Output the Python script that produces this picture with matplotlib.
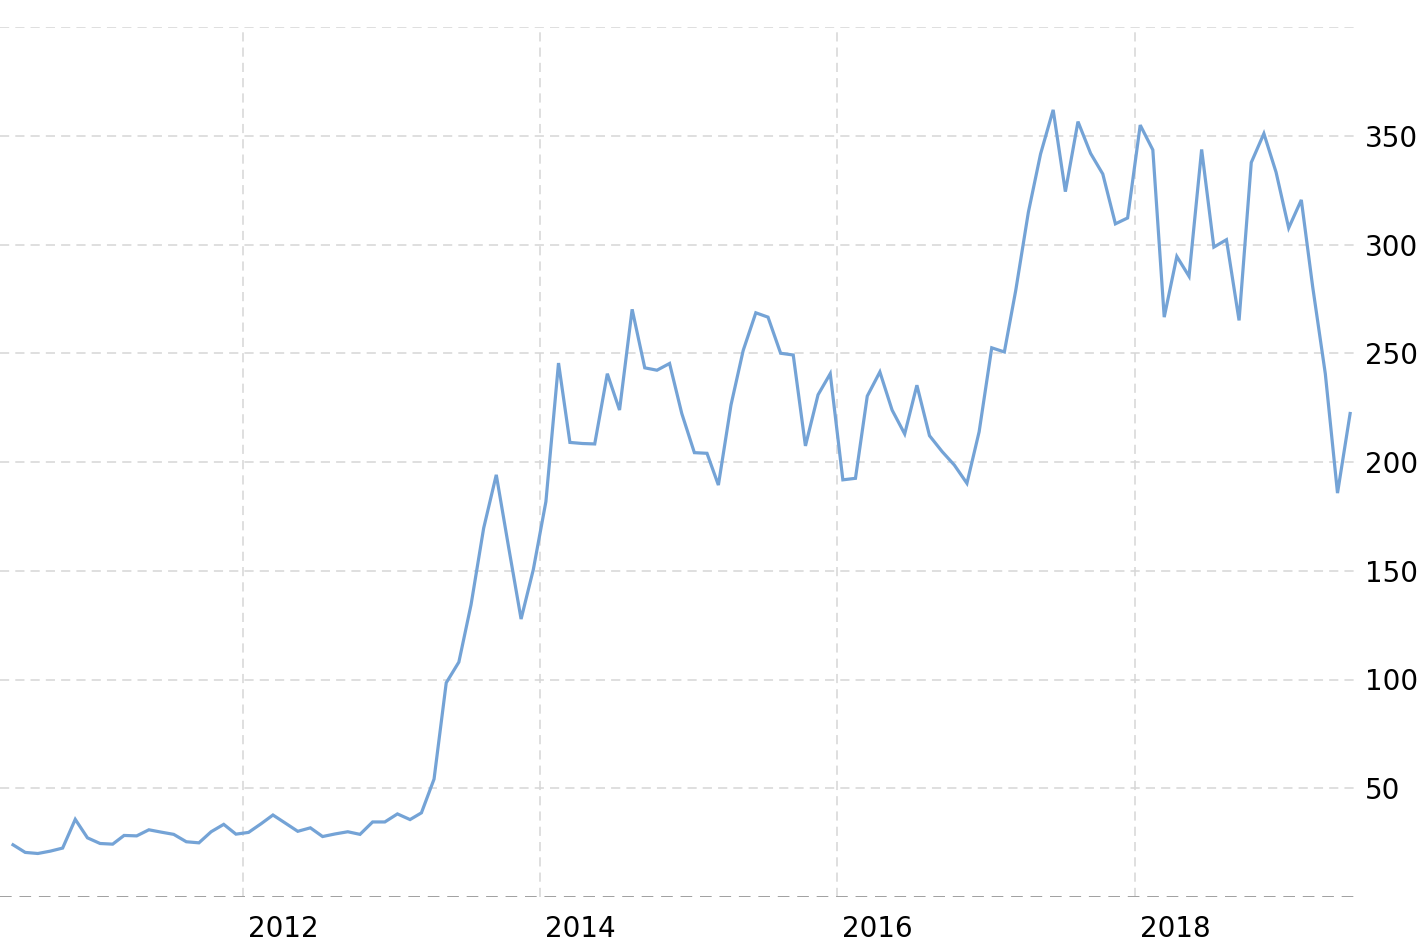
import matplotlib
matplotlib.use("Agg")
import matplotlib.pyplot as plt
import matplotlib.dates as mdates
import matplotlib.transforms as mtransforms
import pandas as pd

# monthly series, first point mid June 2010
start_month = "2010-06-01"
values = [
    24.0, 20.5, 20.0, 21.1, 22.5, 35.7, 27.2, 24.6, 24.3, 28.3, 28.1, 30.9,
    29.8, 28.8, 25.4, 24.9, 30.0, 33.4, 28.9, 29.7, 33.7, 37.7, 33.9, 30.2,
    31.8, 27.8, 29.0, 30.0, 28.8, 34.5, 34.5, 38.2, 35.6, 38.7,
    54.2, 98.5, 108.0, 134.4, 169.6, 194.1, 161.2, 127.8, 150.5, 181.8,
    245.5, 209.0, 208.5, 208.3, 240.6, 223.9, 270.2, 243.3, 242.2, 245.3,
    222.3, 204.3, 204.0, 189.4, 226.2, 251.3, 268.6, 266.6, 250.0, 249.2,
    207.4, 230.9, 240.6,
    191.8, 192.5, 230.3, 241.4, 223.9, 212.9, 235.3, 212.1, 204.8, 198.6,
    190.2, 213.9, 252.5, 250.6,
    278.9, 314.8, 341.6, 361.9, 324.3, 356.5, 341.9, 332.4, 309.5, 312.2,
    354.9, 343.5, 266.6, 294.5, 285.4, 343.7, 298.8, 302.2, 265.1, 337.7,
    351.0, 333.2, 307.6, 320.5, 280.5, 240.6, 185.7, 222.3,
]
year_ticks = [2012, 2014, 2016, 2018]
y_ticks = [50, 100, 150, 200, 250, 300, 350]

dates = pd.date_range(start_month, periods=len(values), freq="MS") + pd.Timedelta(days=14)

LINE = "#74a3d6"
GRID = "#d6d6d6"

fig = plt.figure(figsize=(14.28, 9.5), dpi=100)
ax = fig.add_axes([0.0, 1 - 897 / 950, 1355 / 1428, (897 - 27) / 950])

ax.plot(dates, values, color=LINE, lw=2.3, solid_joinstyle="miter", zorder=3)

ax.set_ylim(0, 400)
ax.set_xlim(dates[0] - pd.Timedelta(days=32), dates[-1] + pd.Timedelta(days=12))

# horizontal grid
for v in y_ticks + [400]:
    ax.axhline(v, color=GRID, lw=1.1, ls=(0, (6, 4)), zorder=1)
ax.axhline(0, color="#a0a0a0", lw=1.4, ls=(0, (6, 4)), zorder=2)

# vertical grid at year starts
xt = [pd.Timestamp(f"{y}-01-01") for y in year_ticks]
for d in xt:
    ax.axvline(d, color=GRID, lw=1.1, ls=(0, (6, 4)), zorder=1)

for s in ax.spines.values():
    s.set_visible(False)

ax.set_xticks(xt)
ax.xaxis.set_major_formatter(mdates.DateFormatter("%Y"))
ax.tick_params(axis="x", length=0, pad=13, labelsize=20)
offset = mtransforms.ScaledTranslation(5 / 100, 0, fig.dpi_scale_trans)
for lab in ax.get_xticklabels():
    lab.set_horizontalalignment("left")
    lab.set_transform(lab.get_transform() + offset)

ax.yaxis.tick_right()
ax.set_yticks(y_ticks)
ax.tick_params(axis="y", length=0, pad=7, labelsize=20)

fig.savefig("out.png", dpi=100)
